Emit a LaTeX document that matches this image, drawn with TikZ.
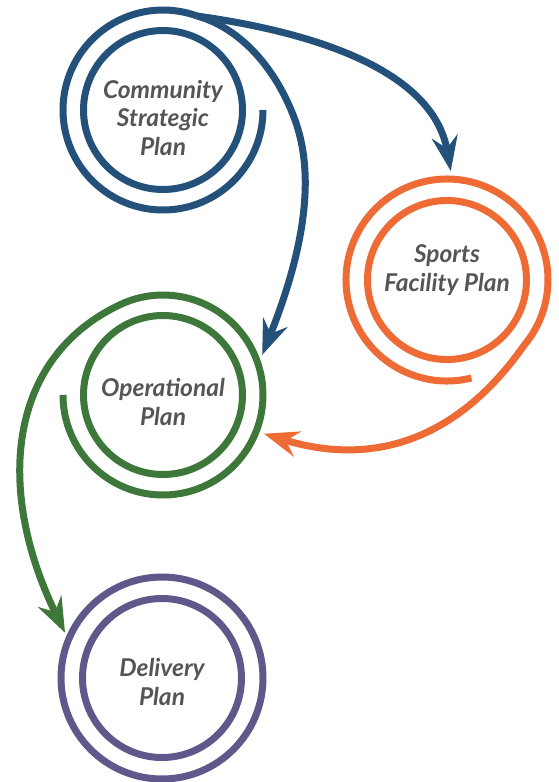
\documentclass[tikz,border=0pt]{standalone}
\usepackage{fontspec}
\newfontfamily\labfont{Lato}
\usetikzlibrary{arrows.meta,calc}
\definecolor{cblue}{HTML}{23517A}
\definecolor{corange}{HTML}{EE6B35}
\definecolor{cgreen}{HTML}{3E773A}
\definecolor{cpurple}{HTML}{5F588B}
\definecolor{ctext}{HTML}{545557}
\begin{document}
\begin{tikzpicture}[x=1pt,y=-1pt,
  ring/.style={line width=7pt},
  planring/.style={circle, draw, line width=7pt, minimum size=159pt, inner sep=0pt},
  lab/.style={font=\labfont\bfseries\itshape\fontsize{24.5}{28.5}\selectfont, text=ctext, align=center, inner sep=0pt},
  arrowtip/.style={-{Stealth[length=35pt,width=26pt,inset=12pt]}}]
\useasboundingbox (0,0) rectangle (558,782);

% inner circles
\node[planring, draw=cblue]   (csp) at (163,110) {};
\node[planring, draw=corange] (sfp) at (447,280) {};
\node[planring, draw=cgreen]  (op)  at (163,395) {};
\node[planring, draw=cpurple] (dp)  at (162,678) {};

% labels
\node[lab] (csptext) at (163,118) {Community\\Strategic\\Plan};
\node[lab] (sfptext) at (447,270) {Sports\\Facility Plan};
\node[lab] (optext)  at (163,402) {Operational\\Plan};
\node[lab] (dptext)  at (162,682) {Delivery\\Plan};

% arrow end points
\coordinate (tipBS) at ($(sfp.center)+(-88:109)$);
\coordinate (tipBO) at ($(op.center)+(-22:107)$);
\coordinate (tipSO) at ($(op.center)+(21:108)$);
\coordinate (tipOD) at ($(dp.center)+(205:107)$);
\coordinate (bmid) at (295,120);

% blue spiral and its two branches
\draw[ring, cblue] ($(csp.center)+(0:100)$) arc[start angle=0, end angle=290, radius=100] coordinate (bsplit);
\draw[ring, cblue, arrowtip] (bsplit) .. controls +(8:150) and +(260:90) .. (tipBS);
\draw[ring, cblue, arrowtip] (bsplit) .. controls +(43,12) and +(-19,-52) .. (bmid)
      .. controls +(16,44) and +(50,-125) .. (tipBO);

% orange spiral
\draw[ring, corange, arrowtip] ($(sfp.center)+(76:101)$) arc[start angle=76, end angle=400, radius=101]
      .. controls +(125:110) and +(17:120) .. (tipSO);

% green spiral
\draw[ring, cgreen, arrowtip] ($(op.center)+(180:100)$) arc[start angle=180, end angle=-115, radius=100]
      .. controls +(155:125) and +(244:160) .. (tipOD);

% purple outer ring
\draw[ring, cpurple] (dp.center) circle[radius=101];
\end{tikzpicture}
\end{document}
